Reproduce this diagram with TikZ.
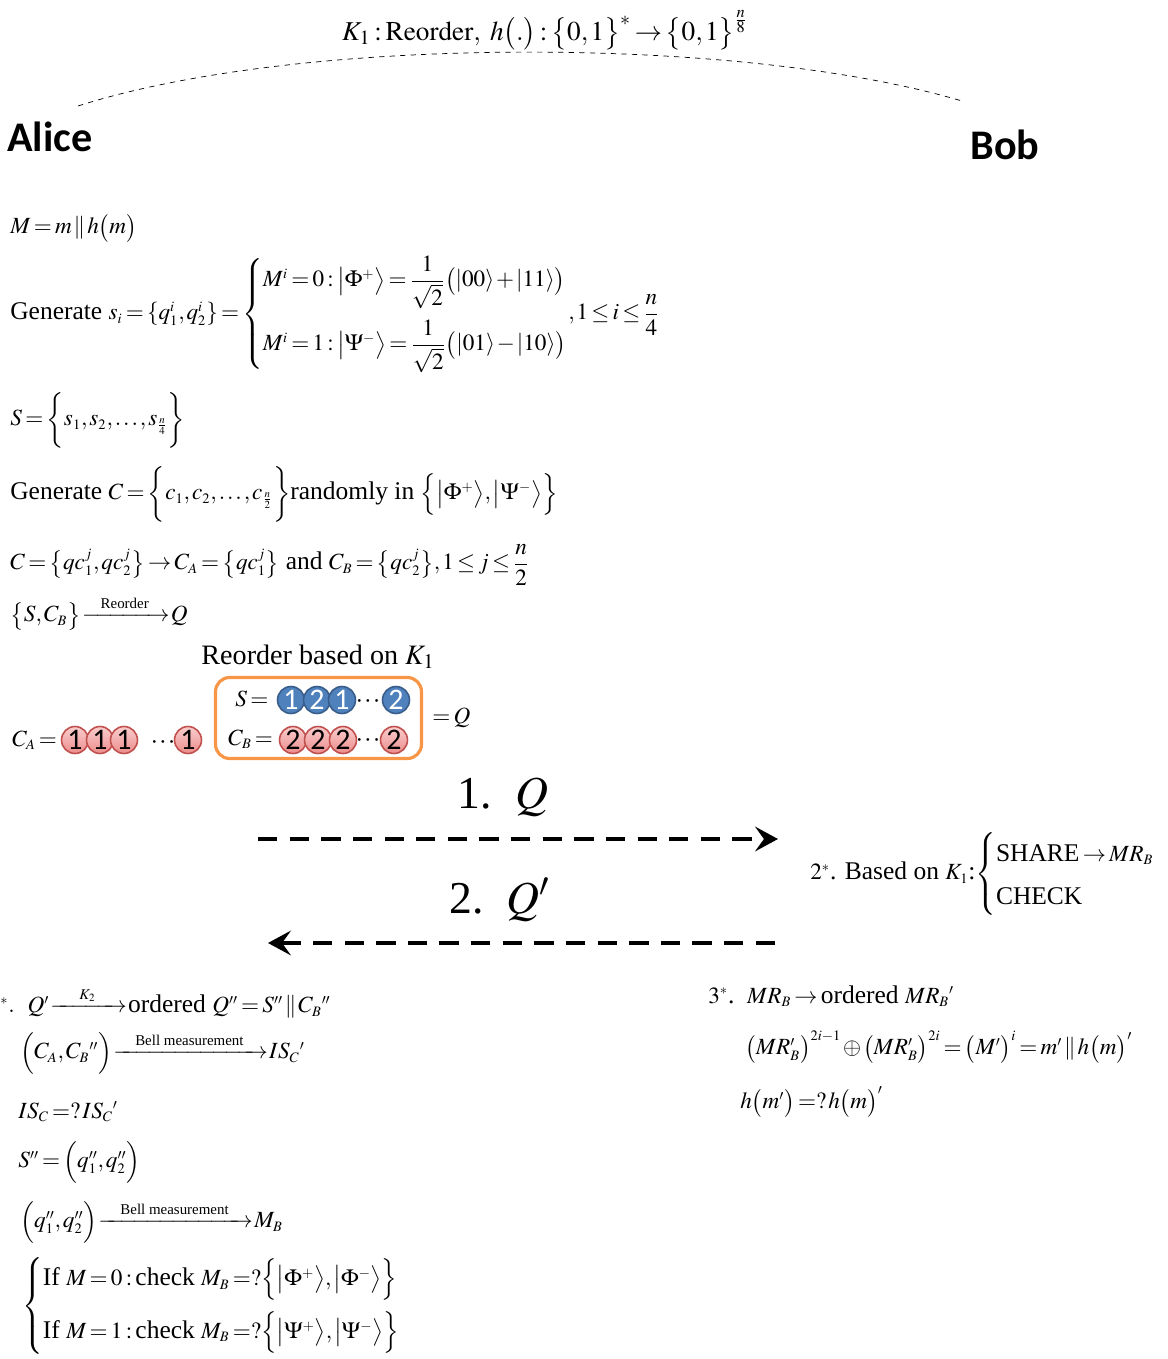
\documentclass[tikz,border=0pt]{standalone}
\usepackage{amsmath}
\usepackage{mathptmx}
\usepackage{fontspec}
\setmainfont{Liberation Serif}
\newfontfamily\calibri{Carlito}
\usetikzlibrary{arrows.meta}
\DeclareMathSizes{14.5}{13.2}{8.2}{6.2}
\definecolor{ballred}{RGB}{192,80,77}
\definecolor{balllight}{RGB}{250,205,205}
\definecolor{balldark}{RGB}{236,140,140}
\definecolor{ballblue}{RGB}{79,129,189}
\definecolor{balledge}{RGB}{56,93,138}
\definecolor{boxorange}{RGB}{247,150,70}
\newcommand\tightmath{\thickmuskip=2.5mu plus 1mu\medmuskip=1.5mu plus 1mu\thinmuskip=1.5mu}
\newcommand\arrlab[1]{\hbox{\fontsize{8.5}{9}\selectfont #1}}
\newcommand\tridots{\textperiodcentered\kern0.6pt\textperiodcentered\kern0.6pt\textperiodcentered}
\tikzset{every picture/.style={line join=round}}

\begin{document}
\begin{tikzpicture}[x=0.02cm,y=-0.02cm,
    txt/.style={inner sep=0,font=\fontsize{14.5}{17}\selectfont\tightmath},
    eq/.style={txt,anchor=west},
    who/.style={inner sep=0,font=\fontsize{24}{28}\calibri\bfseries},
    redball/.style={circle,draw=ballred,line width=0.9pt,top color=balllight,bottom color=balldark,minimum size=0.54cm,inner sep=0,font=\fontsize{17}{17}\calibri},
    blueball/.style={circle,draw=balledge,line width=0.9pt,fill=ballblue,text=white,minimum size=0.54cm,inner sep=0,font=\fontsize{17}{17}\calibri},
    dots/.style={inner sep=0,font=\fontsize{13}{13}\selectfont},
    transfer/.style={line width=2.3pt,dash pattern=on 11pt off 7pt,-{Stealth[length=13pt,width=14pt,inset=5pt]}}]
    \useasboundingbox (0,0) rectangle (1167,1359);

    %key and parties
    \node (key) at (545,30) [txt,font=\fontsize{15.5}{18}\selectfont\tightmath]{$K_1:\mathrm{Reorder},\ h\bigl(.\bigr):\bigl\{0,1\bigr\}^{*}\rightarrow\bigl\{0,1\bigr\}^{\frac{n}{8}}$};
    \node (alice) at (50,137) [who]{Alice};
    \node (bob) at (1005,145) [who]{Bob};
    \coordinate (arcL) at (78,106);
    \coordinate (arcR) at (962,101);
    \draw [dashed,thin] (arcL) .. controls (300,35) and (740,35) .. (arcR);

    %alice prepares
    \node (msg) at (10,228) [eq]{$M=m\,\|\,h\bigl(m\bigr)$};
    \node (gens) at (10,314) [eq]{Generate $s_i=\{q_1^i,q_2^i\}=\left\{\renewcommand\arraystretch{1.3}\begin{array}{@{}l@{}}M^i=0:\bigl|\Phi^+\bigr\rangle=\dfrac{1}{\sqrt{2}}\bigl(\left|00\right\rangle+\left|11\right\rangle\bigr)\\[12pt] M^i=1:\bigl|\Psi^-\bigr\rangle=\dfrac{1}{\sqrt{2}}\bigl(\left|01\right\rangle-\left|10\right\rangle\bigr)\end{array}\right.\!,1\le i\le\dfrac{n}{4}$};
    \node (sset) at (10,420) [eq]{$S=\biggl\{s_1,s_2,\dots,s_{\frac{n}{4}}\biggr\}$};
    \node (genc) at (10,494) [eq]{Generate $C=\biggl\{c_1,c_2,\dots,c_{\frac{n}{2}}\biggr\}$randomly in $\Bigl\{\bigl|\Phi^+\bigr\rangle,\bigl|\Psi^-\bigr\rangle\Bigr\}$};
    \node (split) at (10,565) [eq]{$C=\bigl\{qc_1^j,qc_2^j\bigr\}\rightarrow C_A=\bigl\{qc_1^j\bigr\}$ and $C_B=\bigl\{qc_2^j\bigr\},1\le j\le\dfrac{n}{2}$};
    \node (reord) at (10,613) [eq]{$\bigl\{S,C_B\bigr\}\!\xrightarrow{\hspace{8pt}\arrlab{Reorder}\hspace{8pt}}\!Q$};
    \node (based) at (318,657) [txt,font=\fontsize{16}{19}\selectfont]{Reorder based on $K_1$};

    %particle rows
    \node (calab) at (12,740) [eq]{$C_A=$};
    \node (ca1) at (75,740) [redball]{1};
    \node (ca2) at (100,740) [redball]{1};
    \node (ca3) at (124,740) [redball]{1};
    \node (cadots) at (163,745) [dots]{\tridots};
    \node (ca4) at (188,740) [redball]{1};
    \node (qbox) at (318.5,718) [draw=boxorange,line width=1.8pt,rounded corners=8pt,minimum width=4.12cm,minimum height=1.62cm]{};
    \node (slab) at (235,699) [eq]{$S=$};
    \node (s1) at (291,700) [blueball]{1};
    \node (s2) at (317,700) [blueball]{2};
    \node (s3) at (342,700) [blueball]{1};
    \node (sdots) at (368,704) [dots]{\tridots};
    \node (s4) at (396,700) [blueball]{2};
    \node (cblab) at (228,739) [eq]{$C_B=$};
    \node (cb1) at (293,740) [redball]{2};
    \node (cb2) at (318,740) [redball]{2};
    \node (cb3) at (343,740) [redball]{2};
    \node (cbdots) at (368,743) [dots]{\tridots};
    \node (cb4) at (394,740) [redball]{2};
    \node (qeq) at (432,718) [eq]{$=Q$};

    %quantum channel
    \node (step1) at (503,797) [txt,font=\fontsize{26}{30}\selectfont]{1.\ \ $Q$};
    \node (step2) at (500,900) [txt,font=\fontsize{26}{30}\selectfont]{2.\ \ $Q'$};
    \coordinate (sendL) at (258,839);
    \coordinate (sendR) at (778,839);
    \coordinate (backR) at (775,943);
    \coordinate (backL) at (268,943);
    \draw [transfer] (sendL) to (sendR);
    \draw [transfer] (backR) to (backL);

    %bob
    \node (bob2) at (810,874) [eq]{$2^{*}$. Based on $K_1$:$\left\{\renewcommand\arraystretch{1.45}\begin{array}{@{}l@{}}\text{SHARE}\rightarrow MR_B\\ \text{CHECK}\end{array}\right.$};
    \node (bob3) at (708,996) [eq]{$3^{*}$.\ \ $MR_B\rightarrow\text{ordered }MR_B{}'$};
    \node (bobxor) at (745,1047) [eq]{$\bigl(MR_B'\bigr)^{2i-1}\oplus\bigl(MR_B'\bigr)^{2i}=\bigl(M'\bigr)^i=m'\,\|\,h\bigl(m\bigr)'$};
    \node (bobhash) at (740,1102) [eq]{$h\bigl(m'\bigr)=?\,h\bigl(m\bigr)'$};

    %alice checks
    \node (ali4) at (0,1003) [eq]{${}^{*}.\ \ Q'\!\xrightarrow{\hspace{14pt}\arrlab{$K_2$}\hspace{14pt}}\!\text{ordered }Q''=S''\,\|\,C_B{}''$};
    \node (bell1) at (20,1053) [eq]{$\Bigl(C_A,C_B{}''\Bigr)\!\xrightarrow{\hspace{10pt}\arrlab{Bell measurement}\hspace{10pt}}\!IS_C{}'$};
    \node (isc) at (18,1112) [eq]{$IS_C=?\,IS_C{}'$};
    \node (sdd) at (18,1162) [eq]{$S''=\Bigl(q_1'',q_2''\Bigr)$};
    \node (bell2) at (20,1222) [eq]{$\Bigl(q_1'',q_2''\Bigr)\!\xrightarrow{\hspace{10pt}\arrlab{Bell measurement}\hspace{10pt}}\!M_B$};
    \node (check) at (22,1306) [eq]{$\left\{\renewcommand\arraystretch{1.3}\begin{array}{@{}l@{}}\text{If }M=0:\text{check }M_B=?\Bigl\{\bigl|\Phi^+\bigr\rangle,\bigl|\Phi^-\bigr\rangle\Bigr\}\\[8pt] \text{If }M=1:\text{check }M_B=?\Bigl\{\bigl|\Psi^+\bigr\rangle,\bigl|\Psi^-\bigr\rangle\Bigr\}\end{array}\right.$};
\end{tikzpicture}
\end{document}
